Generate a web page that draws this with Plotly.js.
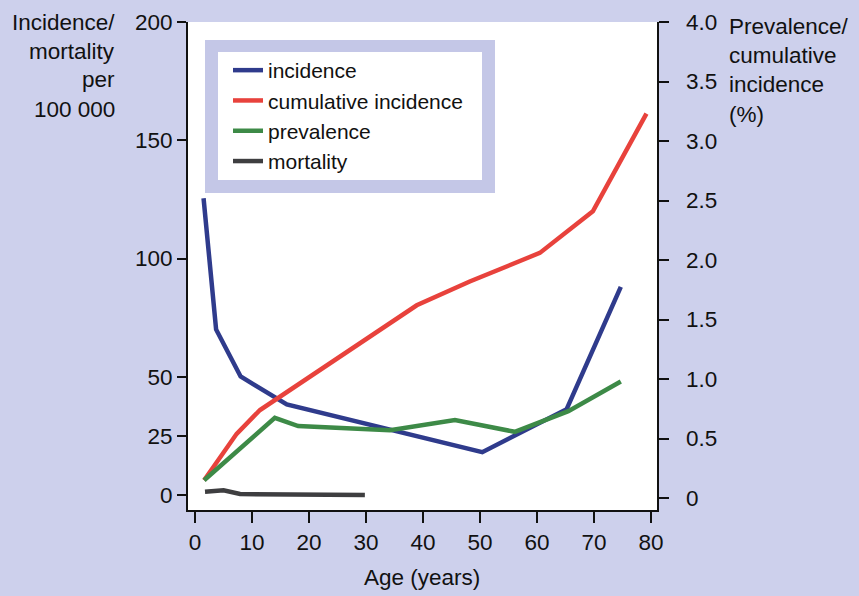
<!DOCTYPE html>
<html>
<head>
<meta charset="utf-8">
<script src="https://cdn.plot.ly/plotly-3.0.1.min.js"></script>
<style>
  html, body { margin: 0; padding: 0; background: #cdd0ec; }
  #chart { width: 859px; height: 596px; }
</style>
</head>
<body>
<div id="chart"></div>
<script>
// ages
const incidence_age = [1.5, 3.7, 8.0, 16.1, 50.4, 65.2, 74.7];
const incidence_val = [125.5, 70, 50.1, 38.3, 18.1, 36.3, 88];

const cumulative_age = [1.6, 7.3, 11.4, 38.9, 48.2, 60.5, 69.8, 79.2];
const cumulative_val = [0.15, 0.54, 0.74, 1.62, 1.82, 2.06, 2.41, 3.23];

const prevalence_age = [1.6, 14.0, 18.1, 34.2, 45.6, 56.1, 65.5, 74.7];
const prevalence_val = [0.15, 0.675, 0.605, 0.57, 0.655, 0.557, 0.73, 0.98];

const mortality_age = [1.75, 5.0, 7.9, 29.8];
const mortality_val = [1.4, 2.0, 0.4, 0];

const left_ticks = [0, 25, 50, 100, 150, 200];
const right_ticks = [0, 0.5, 1, 1.5, 2, 2.5, 3, 3.5, 4];
const right_labels = ['0', '0.5', '1.0', '1.5', '2.0', '2.5', '3.0', '3.5', '4.0'];
const age_ticks = [0, 10, 20, 30, 40, 50, 60, 70, 80];

const FONT = 'Liberation Sans, Arial, sans-serif';
const BG = '#cdd0ec';
const TXT = 22.5;

function trace(x, y, name, color, axis) {
    return {
        x: x, y: y, name: name, yaxis: axis,
        type: 'scatter', mode: 'lines',
        line: { color: color, width: 4.5 }
    };
}

let data = [
    trace(incidence_age, incidence_val, 'incidence', '#2f3b8c', 'y'),
    trace(cumulative_age, cumulative_val, 'cumulative incidence', '#e8423c', 'y2'),
    trace(prevalence_age, prevalence_val, 'prevalence', '#3d8a47', 'y2'),
    trace(mortality_age, mortality_val, 'mortality', '#3e3e40', 'y')
];

// helper for paper coords from pixel positions (plot area 188..657 x 22..510)
function px(x) { return (x - 188) / 469; }
function py(y) { return (510 - y) / 488; }

function label(text, x, y, anchor) {
    return {
        text: text, xref: 'paper', yref: 'paper',
        x: px(x), y: py(y), xanchor: anchor, yanchor: 'middle',
        showarrow: false, font: { family: FONT, size: TXT, color: '#111' }
    };
}

let annotations = [
    label('Incidence/', 117, 22, 'right'),
    label('mortality', 117, 51, 'right'),
    label('per', 117, 80, 'right'),
    label('100 000', 117, 109, 'right'),
    label('Prevalence/', 727, 26, 'left'),
    label('cumulative', 727, 55, 'left'),
    label('incidence', 727, 85, 'left'),
    label('(%)', 727, 114, 'left'),
    label('Age (years)', 422, 577, 'center')
];

let layout = {
    width: 859, height: 596,
    margin: { l: 188, r: 202, t: 22, b: 86 },
    paper_bgcolor: BG,
    plot_bgcolor: '#ffffff',
    font: { family: FONT, size: TXT, color: '#111' },
    showlegend: true,
    legend: {
        x: px(228), y: py(50), xanchor: 'left', yanchor: 'top',
        bgcolor: 'rgba(0,0,0,0)', borderwidth: 0,
        font: { family: FONT, size: 21, color: '#111' },
        tracegroupgap: 0
    },
    xaxis: {
        range: [-1.23, 81.05], tickvals: age_ticks,
        showgrid: false, zeroline: false,
        showline: true, linecolor: '#111', linewidth: 2,
        ticks: 'outside', ticklen: 11, tickwidth: 2, tickcolor: '#111',
        tickfont: { size: TXT }
    },
    yaxis: {
        range: [-6.34, 200], tickvals: left_ticks,
        showgrid: false, zeroline: false,
        showline: true, linecolor: '#111', linewidth: 2,
        ticks: 'outside', ticklen: 9, tickwidth: 2, tickcolor: '#111',
        tickfont: { size: TXT }
    },
    yaxis2: {
        overlaying: 'y', side: 'right',
        range: [-0.1, 4.0], tickvals: right_ticks,
        ticktext: right_labels.map(t => '&nbsp;&nbsp;' + t),
        showgrid: false, zeroline: false,
        showline: true, linecolor: '#111', linewidth: 2,
        ticks: 'outside', ticklen: 10, tickwidth: 2, tickcolor: '#111',
        tickfont: { size: TXT }
    },
    shapes: [
        { type: 'rect', xref: 'paper', yref: 'paper', layer: 'below',
          x0: px(205), x1: px(495), y0: py(193), y1: py(40),
          fillcolor: '#c4c7e7', line: { width: 0 } },
        { type: 'rect', xref: 'paper', yref: 'paper', layer: 'below',
          x0: px(218), x1: px(482), y0: py(180), y1: py(52),
          fillcolor: '#ffffff', line: { width: 0 } }
    ],
    annotations: annotations
};

Plotly.newPlot('chart', data, layout, { displayModeBar: false, staticPlot: true });
</script>
</body>
</html>
